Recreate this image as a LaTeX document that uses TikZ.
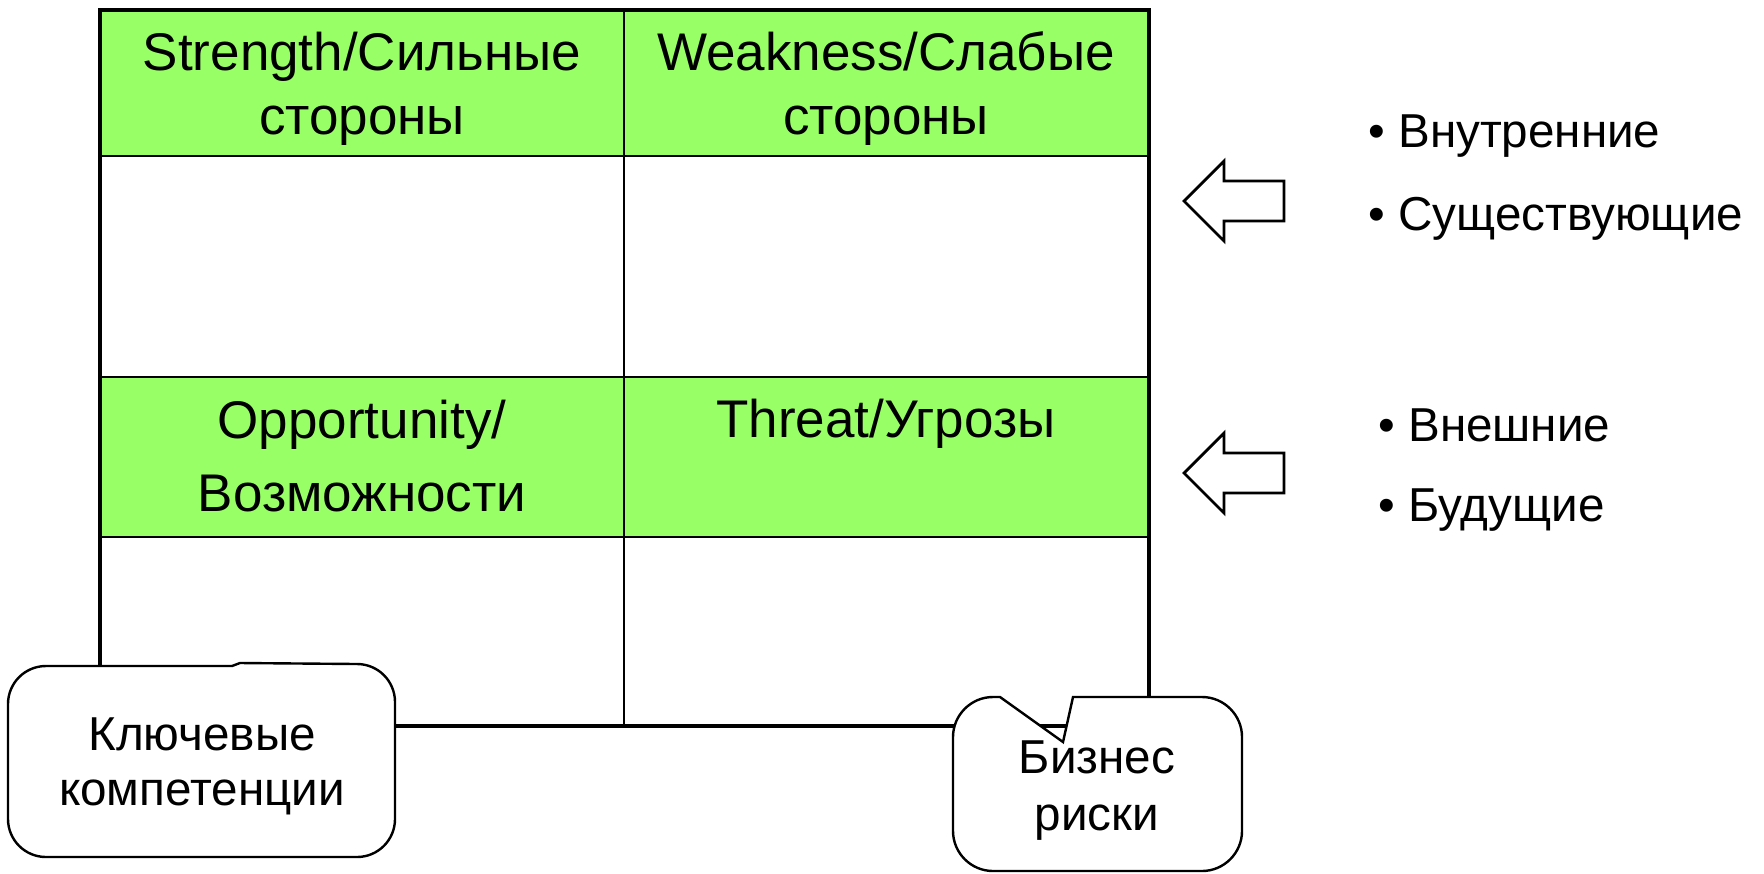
\documentclass[tikz,border=0pt]{standalone}
\usepackage{fontspec}
\setmainfont{Liberation Sans}
\usepackage{tikz}
\usepackage{color}

\definecolor{swotgreen}{RGB}{153,255,102}

\tikzset{
  celltext/.style={anchor=base, inner sep=0pt, font=\fontsize{26.5}{32}\selectfont},
  sidetext/.style={anchor=base west, inner sep=0pt, font=\fontsize{23.8}{28}\selectfont},
  notetext/.style={anchor=base, inner sep=0pt, font=\fontsize{23.8}{28}\selectfont},
  blockarrow/.style={draw=black, fill=white, line width=1.4pt, line join=miter},
  callout/.style={draw=black, fill=white, line width=1.2pt}
}

\begin{document}
\begin{tikzpicture}[x=0.5pt,y=-0.5pt]
\useasboundingbox (0,0) rectangle (1764,873);

% green header rows
\fill[swotgreen] (100,10) rectangle (1149,156);
\fill[swotgreen] (100,377) rectangle (1149,537);
\draw[black, line width=1pt] (100,156) -- (1149,156);
\draw[black, line width=1pt] (100,377) -- (1149,377);
\draw[black, line width=1pt] (100,537) -- (1149,537);
\draw[black, line width=1pt] (624,10) -- (624,726);
\draw[black, line width=2.4pt] (100,10) rectangle (1149,726);

\node[celltext] (str1) at (362,70) {Strength/Сильные};
\node[celltext] (str2) at (362,134) {стороны};
\node[celltext] (weak1) at (886,70) {Weakness/Слабые};
\node[celltext] (weak2) at (886,134) {стороны};
\node[celltext] (opp1) at (362,438) {Opportunity/};
\node[celltext] (opp2) at (362,511) {Возможности};
\node[celltext] (thr) at (886,437) {Threat/Угрозы};

% arrows
\foreach \y in {201,473}
  \draw[blockarrow] (1184,\y) -- (1224,\y-40) -- (1224,\y-20) -- (1284,\y-20)
    -- (1284,\y+20) -- (1224,\y+20) -- (1224,\y+40) -- cycle;

\node[sidetext] (int1) at (1368,147) {• Внутренние};
\node[sidetext] (int2) at (1368,230) {• Существующие};
\node[sidetext] (ext1) at (1378,441) {• Внешние};
\node[sidetext] (ext2) at (1378,521) {• Будущие};

% callouts
\draw[callout] (8,704) .. controls (8,683) and (25,666) .. (46,666) -- (232,666) -- (240,663)
  -- (357,664) .. controls (378,664) and (395,681) .. (395,702) -- (395,819)
  .. controls (395,840) and (378,857) .. (357,857) -- (46,857)
  .. controls (25,857) and (8,840) .. (8,819) -- cycle;
\node[notetext] (key1) at (202,750) {Ключевые};
\node[notetext] (key2) at (202,805) {компетенции};

\draw[callout] (953,737) .. controls (953,715) and (971,697) .. (993,697) -- (1000,697) -- (1063,742)
  -- (1073,697) -- (1202,697) .. controls (1224,697) and (1242,715) .. (1242,737) -- (1242,831)
  .. controls (1242,853) and (1224,871) .. (1202,871) -- (993,871)
  .. controls (971,871) and (953,853) .. (953,831) -- cycle;
\node[notetext] (risk1) at (1097,773) {Бизнес};
\node[notetext] (risk2) at (1097,830) {риски};

\end{tikzpicture}
\end{document}
